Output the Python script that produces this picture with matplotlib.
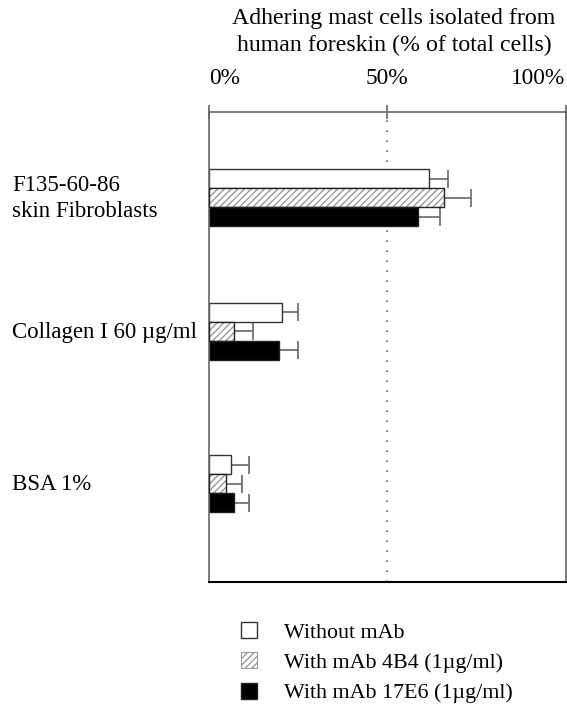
import matplotlib
matplotlib.use("Agg")
import matplotlib.pyplot as plt
from matplotlib.patches import Patch
import numpy as np

plt.rcParams["font.family"] = ["Liberation Serif", "DejaVu Serif"]

# data (% of total cells)
categories = ["F135-60-86\nskin Fibroblasts", "Collagen I 60 \u00b5g/ml", "BSA 1%"]
series = ["Without mAb", "With mAb 4B4 (1\u00b5g/ml)", "With mAb 17E6 (1\u00b5g/ml)"]
without_mab = [61.6, 20.6, 6.1]
with_4b4 = [66.0, 7.1, 4.8]
with_17e6 = [58.5, 19.7, 7.1]
err_without = [5.5, 4.4, 5.2]
err_4b4 = [7.5, 5.3, 4.5]
err_17e6 = [6.3, 5.3, 4.2]
xticks = [0, 50, 100]
xticklabels = ["0%", "50%", "100%"]

# layout: group centres in pixel-like units from the top of the axes
group_pos = np.array([85.7, 219.2, 371.5])
bar_h = 19
offsets = [-bar_h, 0, bar_h]

fig = plt.figure(figsize=(5.67, 7.13), dpi=100)
ax = fig.add_axes([209 / 567, 1 - 581.5 / 713, 356.5 / 567, 469.5 / 713])

grey = "#666666"
ecfg = dict(ecolor=grey, elinewidth=1.2, capsize=6.8, capthick=1.2)

vals = [without_mab, with_4b4, with_17e6]
errs = [err_without, err_4b4, err_17e6]
for i, (v, e) in enumerate(zip(vals, errs)):
    y = group_pos + offsets[i]
    xerr = [np.zeros(len(e)), e]
    ax.errorbar(v, y, xerr=xerr, fmt="none", zorder=1, **ecfg)
    if i == 0:
        ax.barh(y, v, height=bar_h, color="white", edgecolor="#333333",
                linewidth=1.0, zorder=2)
    elif i == 1:
        ax.barh(y, v, height=bar_h, color="white", edgecolor="#999999",
                hatch="/////", linewidth=0, zorder=2)
        ax.barh(y, v, height=bar_h, color="none", edgecolor="#222222",
                linewidth=1.0, zorder=3)
    else:
        ax.barh(y, v, height=bar_h, color="black", edgecolor="#222222",
                linewidth=1.0, zorder=2)

ax.axvline(50, color=grey, linestyle=(0, (1, 5)), linewidth=1.2, zorder=0)

ax.set_xlim(0, 100)
ax.set_ylim(469.5, 0)

for side in ["left", "right", "top"]:
    ax.spines[side].set_color(grey)
    ax.spines[side].set_linewidth(1.2)
ax.spines["bottom"].set_color("black")
ax.spines["bottom"].set_linewidth(1.5)

ax.xaxis.set_ticks_position("top")
ax.set_xticks(xticks)
ax.set_xticklabels([])
ax.tick_params(axis="x", direction="inout", length=10, width=1.2, color=grey)
ax.set_yticks([])

# tick labels with individual alignment
for xt, lab, ha in zip(xticks, xticklabels, ["left", "center", "right"]):
    ax.text(xt, -33, lab, ha=ha, va="center", fontsize=16.8, clip_on=False)

# category labels
for pos, cat in zip(group_pos, categories):
    fig.text(12 / 567, 1 - (pos + 113) / 713, cat, ha="left", va="center",
             fontsize=16.5, linespacing=1.3)

fig.text(394 / 567, 1 - 32 / 713,
         "Adhering mast cells isolated from\nhuman foreskin (% of total cells)",
         ha="center", va="center", fontsize=17.2, linespacing=1.35)

handles = [
    Patch(facecolor="white", edgecolor="#333333", linewidth=1.0),
    Patch(facecolor="white", edgecolor="#999999", hatch="/////", linewidth=0.8),
    Patch(facecolor="black", edgecolor="#222222", linewidth=1.0),
]
fig.legend(handles, series, loc="upper left",
           bbox_to_anchor=(230 / 567, 1 - 611 / 713), frameon=False,
           fontsize=15.8, handlelength=0.72, handleheight=0.75,
           handletextpad=1.25, labelspacing=0.44, borderpad=0)

fig.savefig("out.png", dpi=100)
